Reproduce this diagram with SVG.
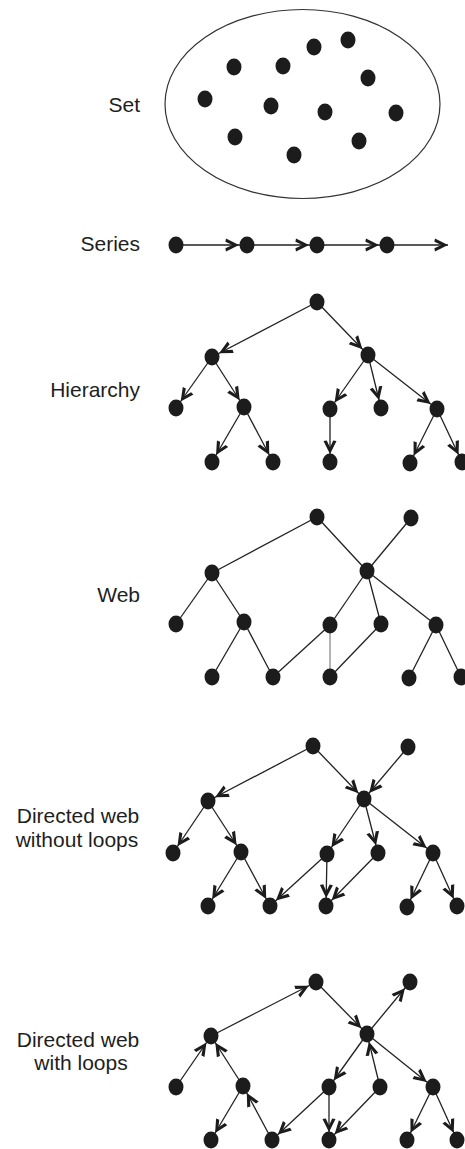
<svg xmlns="http://www.w3.org/2000/svg" width="465" height="1149" viewBox="0 0 465 1149">
<style>
.lbl{font-family:"Liberation Sans",Arial,sans-serif;font-size:21px;fill:#1e1e1e}
.r{text-anchor:end}
.m{text-anchor:middle}
.e{stroke:#222;stroke-width:1.3;fill:none}
.d{marker-end:url(#a)}
.g{stroke:#8a8a8a}
.n ellipse{fill:#1c1c1c}
</style>
<defs>
<marker id="a" markerUnits="userSpaceOnUse" orient="auto" overflow="visible" markerWidth="1" markerHeight="1" refX="0" refY="0">
<path d="M-8,0 L-21,-6.5 L-21.6,-3.2 L-14.5,0 L-21.6,3.2 L-21,6.5 Z" fill="#1c1c1c"/>
</marker>
<marker id="a0" markerUnits="userSpaceOnUse" orient="auto" overflow="visible" markerWidth="1" markerHeight="1" refX="0" refY="0">
<path d="M0,0 L-13,-6.5 L-13.6,-3.2 L-6.5,0 L-13.6,3.2 L-13,6.5 Z" fill="#1c1c1c"/>
</marker>
</defs>

<g id="labels">
<text class="lbl r" x="140" y="112">Set</text>
<text class="lbl r" x="140" y="251">Series</text>
<text class="lbl r" x="140" y="397">Hierarchy</text>
<text class="lbl r" x="140" y="602">Web</text>
<text class="lbl m" x="78" y="823">Directed web</text>
<text class="lbl m" x="77" y="847">without loops</text>
<text class="lbl m" x="78" y="1047">Directed web</text>
<text class="lbl m" x="81" y="1070">with loops</text>
</g>

<g id="set">
<ellipse cx="302.5" cy="104" rx="137.5" ry="94.5" fill="none" stroke="#333" stroke-width="1.2"/>
<g class="n">
<ellipse cx="234" cy="67" rx="7.5" ry="8.5"/>
<ellipse cx="283" cy="66" rx="7.5" ry="8.5"/>
<ellipse cx="314" cy="47" rx="7.5" ry="8.5"/>
<ellipse cx="348" cy="40" rx="7.5" ry="8.5"/>
<ellipse cx="368" cy="78" rx="7.5" ry="8.5"/>
<ellipse cx="205" cy="99" rx="7.5" ry="8.5"/>
<ellipse cx="271" cy="106" rx="7.5" ry="8.5"/>
<ellipse cx="325" cy="112" rx="7.5" ry="8.5"/>
<ellipse cx="396" cy="113" rx="7.5" ry="8.5"/>
<ellipse cx="235" cy="137" rx="7.5" ry="8.5"/>
<ellipse cx="294" cy="155" rx="7.5" ry="8.5"/>
<ellipse cx="359" cy="141" rx="7.5" ry="8.5"/>
</g>
</g>

<g id="connectors">
<!-- series -->
<line class="e d" x1="176" y1="245" x2="247" y2="245"/>
<line class="e d" x1="247" y1="245" x2="317" y2="245"/>
<line class="e d" x1="317" y1="245" x2="387" y2="245"/>
<line class="e" x1="387" y1="245" x2="448" y2="245" marker-end="url(#a0)"/>
<!-- hierarchy -->
<line class="e d" x1="317" y1="302" x2="212" y2="357"/>
<line class="e d" x1="317" y1="302" x2="368" y2="355"/>
<line class="e d" x1="212" y1="357" x2="176" y2="408"/>
<line class="e d" x1="212" y1="357" x2="244" y2="407"/>
<line class="e d" x1="244" y1="407" x2="212" y2="462"/>
<line class="e d" x1="244" y1="407" x2="273" y2="462"/>
<line class="e d" x1="368" y1="355" x2="330" y2="409"/>
<line class="e d" x1="368" y1="355" x2="381" y2="408"/>
<line class="e d" x1="368" y1="355" x2="437" y2="409"/>
<line class="e d" x1="330" y1="409" x2="330" y2="462"/>
<line class="e d" x1="437" y1="409" x2="410" y2="463"/>
<line class="e d" x1="437" y1="409" x2="462" y2="462"/>
<!-- web -->
<line class="e" x1="317" y1="517" x2="212" y2="573"/>
<line class="e" x1="317" y1="517" x2="367" y2="571"/>
<line class="e" x1="411" y1="518" x2="367" y2="571"/>
<line class="e" x1="212" y1="573" x2="176" y2="624"/>
<line class="e" x1="212" y1="573" x2="244" y2="622"/>
<line class="e" x1="244" y1="622" x2="212" y2="677"/>
<line class="e" x1="244" y1="622" x2="273" y2="677"/>
<line class="e" x1="367" y1="571" x2="330" y2="625"/>
<line class="e" x1="367" y1="571" x2="381" y2="624"/>
<line class="e" x1="367" y1="571" x2="436" y2="625"/>
<line class="e" x1="330" y1="625" x2="273" y2="677"/>
<line class="e g" x1="330" y1="625" x2="330" y2="677"/>
<line class="e" x1="381" y1="624" x2="330" y2="677"/>
<line class="e" x1="436" y1="625" x2="409" y2="678"/>
<line class="e" x1="436" y1="625" x2="461" y2="677"/>
<!-- directed web without loops -->
<line class="e d" x1="313" y1="746" x2="208" y2="801"/>
<line class="e d" x1="313" y1="746" x2="364" y2="799"/>
<line class="e d" x1="408" y1="747" x2="364" y2="799"/>
<line class="e d" x1="208" y1="801" x2="173" y2="853"/>
<line class="e d" x1="208" y1="801" x2="241" y2="852"/>
<line class="e d" x1="241" y1="852" x2="208" y2="906"/>
<line class="e d" x1="241" y1="852" x2="270" y2="906"/>
<line class="e d" x1="364" y1="799" x2="327" y2="854"/>
<line class="e d" x1="364" y1="799" x2="378" y2="853"/>
<line class="e d" x1="364" y1="799" x2="433" y2="853"/>
<line class="e d" x1="327" y1="854" x2="270" y2="906"/>
<line class="e d" x1="327" y1="854" x2="326" y2="906"/>
<line class="e d" x1="378" y1="853" x2="326" y2="906"/>
<line class="e d" x1="433" y1="853" x2="407" y2="907"/>
<line class="e d" x1="433" y1="853" x2="457" y2="906"/>
<!-- directed web with loops -->
<line class="e d" x1="211" y1="1036" x2="316" y2="982"/>
<line class="e d" x1="316" y1="982" x2="367" y2="1034"/>
<line class="e d" x1="367" y1="1034" x2="410" y2="982"/>
<line class="e d" x1="176" y1="1087" x2="211" y2="1036"/>
<line class="e d" x1="243" y1="1086" x2="211" y2="1036"/>
<line class="e d" x1="243" y1="1086" x2="211" y2="1140"/>
<line class="e d" x1="272" y1="1140" x2="243" y2="1086"/>
<line class="e d" x1="367" y1="1034" x2="329" y2="1087"/>
<line class="e d" x1="380" y1="1087" x2="367" y2="1034"/>
<line class="e d" x1="367" y1="1034" x2="433" y2="1087"/>
<line class="e d" x1="329" y1="1087" x2="272" y2="1140"/>
<line class="e d" x1="329" y1="1087" x2="329" y2="1140"/>
<line class="e d" x1="380" y1="1087" x2="329" y2="1140"/>
<line class="e d" x1="433" y1="1087" x2="407" y2="1140"/>
<line class="e d" x1="433" y1="1087" x2="457" y2="1140"/>
</g>

<g id="series" class="n">
<ellipse cx="176" cy="245" rx="7.5" ry="8.5"/>
<ellipse cx="247" cy="245" rx="7.5" ry="8.5"/>
<ellipse cx="317" cy="245" rx="7.5" ry="8.5"/>
<ellipse cx="387" cy="245" rx="7.5" ry="8.5"/>
</g>

<g id="hierarchy" class="n">
<ellipse cx="317" cy="302" rx="7.5" ry="8.5"/>
<ellipse cx="212" cy="357" rx="7.5" ry="8.5"/>
<ellipse cx="368" cy="355" rx="7.5" ry="8.5"/>
<ellipse cx="176" cy="408" rx="7.5" ry="8.5"/>
<ellipse cx="244" cy="407" rx="7.5" ry="8.5"/>
<ellipse cx="330" cy="409" rx="7.5" ry="8.5"/>
<ellipse cx="381" cy="408" rx="7.5" ry="8.5"/>
<ellipse cx="437" cy="409" rx="7.5" ry="8.5"/>
<ellipse cx="212" cy="462" rx="7.5" ry="8.5"/>
<ellipse cx="273" cy="462" rx="7.5" ry="8.5"/>
<ellipse cx="330" cy="462" rx="7.5" ry="8.5"/>
<ellipse cx="410" cy="463" rx="7.5" ry="8.5"/>
<ellipse cx="462" cy="462" rx="7.5" ry="8.5"/>
</g>

<g id="web" class="n">
<ellipse cx="317" cy="517" rx="7.5" ry="8.5"/>
<ellipse cx="411" cy="518" rx="7.5" ry="8.5"/>
<ellipse cx="212" cy="573" rx="7.5" ry="8.5"/>
<ellipse cx="367" cy="571" rx="7.5" ry="8.5"/>
<ellipse cx="176" cy="624" rx="7.5" ry="8.5"/>
<ellipse cx="244" cy="622" rx="7.5" ry="8.5"/>
<ellipse cx="330" cy="625" rx="7.5" ry="8.5"/>
<ellipse cx="381" cy="624" rx="7.5" ry="8.5"/>
<ellipse cx="436" cy="625" rx="7.5" ry="8.5"/>
<ellipse cx="212" cy="677" rx="7.5" ry="8.5"/>
<ellipse cx="273" cy="677" rx="7.5" ry="8.5"/>
<ellipse cx="330" cy="677" rx="7.5" ry="8.5"/>
<ellipse cx="409" cy="678" rx="7.5" ry="8.5"/>
<ellipse cx="461" cy="677" rx="7.5" ry="8.5"/>
</g>

<g id="directed-web-without-loops" class="n">
<ellipse cx="313" cy="746" rx="7.5" ry="8.5"/>
<ellipse cx="408" cy="747" rx="7.5" ry="8.5"/>
<ellipse cx="208" cy="801" rx="7.5" ry="8.5"/>
<ellipse cx="364" cy="799" rx="7.5" ry="8.5"/>
<ellipse cx="173" cy="853" rx="7.5" ry="8.5"/>
<ellipse cx="241" cy="852" rx="7.5" ry="8.5"/>
<ellipse cx="327" cy="854" rx="7.5" ry="8.5"/>
<ellipse cx="378" cy="853" rx="7.5" ry="8.5"/>
<ellipse cx="433" cy="853" rx="7.5" ry="8.5"/>
<ellipse cx="208" cy="906" rx="7.5" ry="8.5"/>
<ellipse cx="270" cy="906" rx="7.5" ry="8.5"/>
<ellipse cx="326" cy="906" rx="7.5" ry="8.5"/>
<ellipse cx="407" cy="907" rx="7.5" ry="8.5"/>
<ellipse cx="457" cy="906" rx="7.5" ry="8.5"/>
</g>

<g id="directed-web-with-loops" class="n">
<ellipse cx="316" cy="982" rx="7.5" ry="8.5"/>
<ellipse cx="410" cy="982" rx="7.5" ry="8.5"/>
<ellipse cx="211" cy="1036" rx="7.5" ry="8.5"/>
<ellipse cx="367" cy="1034" rx="7.5" ry="8.5"/>
<ellipse cx="176" cy="1087" rx="7.5" ry="8.5"/>
<ellipse cx="243" cy="1086" rx="7.5" ry="8.5"/>
<ellipse cx="329" cy="1087" rx="7.5" ry="8.5"/>
<ellipse cx="380" cy="1087" rx="7.5" ry="8.5"/>
<ellipse cx="433" cy="1087" rx="7.5" ry="8.5"/>
<ellipse cx="211" cy="1140" rx="7.5" ry="8.5"/>
<ellipse cx="272" cy="1140" rx="7.5" ry="8.5"/>
<ellipse cx="329" cy="1140" rx="7.5" ry="8.5"/>
<ellipse cx="407" cy="1140" rx="7.5" ry="8.5"/>
<ellipse cx="457" cy="1140" rx="7.5" ry="8.5"/>
</g>
</svg>
